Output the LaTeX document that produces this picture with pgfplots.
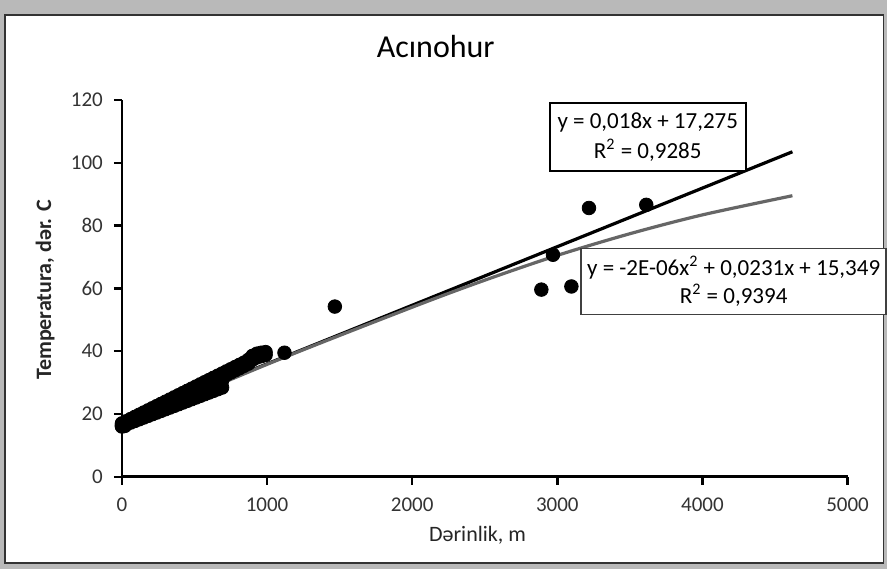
\documentclass[border=0pt]{standalone}
\usepackage{fontspec}
\setmainfont{Carlito}
\usepackage{pgfplots}
\pgfplotsset{compat=1.18}
\usepackage{pgfplotstable}

\pgfplotstableread{
x y
0 16.0
10 16.3
20 16.2
0 16.2
0 17.0
0 16.6
30 16.73
30 17.69
30 17.21
60 17.26
60 18.38
60 17.82
90 17.79
90 19.07
90 18.43
120 18.32
120 19.76
120 19.04
150 18.86
150 20.45
150 19.66
180 19.39
180 21.14
180 20.27
210 19.92
210 21.83
210 20.88
240 20.45
240 22.52
240 21.49
270 20.98
270 23.21
270 22.10
300 21.51
300 23.90
300 22.71
330 22.04
330 24.59
330 23.32
360 22.57
360 25.28
360 23.93
390 23.10
390 25.97
390 24.54
420 23.63
420 26.66
420 25.15
450 24.17
450 27.35
450 25.76
480 24.70
480 28.04
480 26.37
510 25.23
510 28.73
510 26.98
540 25.76
540 29.42
540 27.59
570 26.29
570 30.11
570 28.20
600 26.82
600 30.80
600 28.81
630 27.35
630 31.49
630 29.42
660 27.88
660 32.18
660 30.03
690 28.41
690 32.87
690 30.64
720 32.5
720 33.56
750 33.2
750 34.25
780 33.9
780 34.94
810 34.6
810 35.63
840 35.3
840 36.32
870 36.0
870 37.2
900 37.3
900 38.5
930 38.0
930 39.2
960 38.4
960 39.5
990 38.8
990 39.7
1120 39.5
1467 54.2
2890 59.6
2970 70.7
3097 60.6
3218 85.6
3613 86.6
}\datatable

\pgfplotstableread{
x y
0 17.3
4620 103.5
}\lintable

\pgfplotstableread{
x y
0 16.2
1000 35.8
2000 54.0
2500 62.6
3000 70.5
3500 77.4
4000 83.4
4620 89.5
}\polytable

\begin{document}
\begin{tikzpicture}
\fill[gray!55] (-61pt,-46pt) rectangle (382.5pt,238.5pt);
\filldraw[fill=white, draw=black!80, line width=0.8pt] (-58.5pt,-43pt) rectangle (381pt,231pt);
\begin{axis}[
  at={(0,0)}, anchor=south west,
  scale only axis,
  width=363pt, height=188.5pt,
  xmin=0, xmax=5000, ymin=0, ymax=120,
  xtick={0,1000,2000,3000,4000,5000},
  ytick={0,20,40,60,80,100,120},
  axis x line*=bottom, axis y line*=left,
  axis line style={black, line width=1.3pt},
  tick align=outside,
  major tick length=4pt,
  tick style={black, line width=1.2pt},
  clip=false,
  /pgf/number format/assume math mode=true,
  scaled ticks=false,
  xticklabel style={font=\fontsize{10.5}{12}\selectfont, text=black!80, yshift=-3pt},
  yticklabel style={font=\fontsize{10.5}{12}\selectfont, text=black!80, xshift=-2pt},
  x tick label style={/pgf/number format/1000 sep={}},
  xlabel={Dərinlik, m},
  ylabel={Temperatura, dər. C},
  xlabel style={at={(axis description cs:0.49,-0.156)}, anchor=center, font=\fontsize{11}{13}\selectfont, text=black!85},
  ylabel style={at={(axis description cs:-0.106,0.496)}, anchor=center, font=\bfseries\fontsize{11}{13}\selectfont, text=black!85},
  title={Acınohur},
  title style={at={(axis description cs:0.4325,1.109)}, anchor=center, yshift=0pt, font=\fontsize{16}{18}\selectfont},
]
\addplot[only marks, mark=*, mark size=3.4pt, black] table[x=x, y=y] {\datatable};
\addplot[black, line width=1.6pt] table[x=x, y=y] {\lintable};
\addplot[black!60, line width=1.6pt, smooth] table[x=x, y=y] {\polytable};
\node[draw=black, line width=1pt, fill=white, align=center, inner xsep=4pt, inner ysep=5pt, font=\fontsize{11.5}{15}\selectfont] at (axis cs:3623,108.2) {y = 0,018x + 17,275\\R\textsuperscript{2} = 0,9285};
\node[draw=black!75, line width=0.9pt, fill=white, align=center, inner xsep=3pt, inner ysep=4pt, font=\fontsize{11.5}{14}\selectfont] at (axis cs:4215,62.2) {y = -2E-06x\textsuperscript{2} + 0,0231x + 15,349\\R\textsuperscript{2} = 0,9394};
\end{axis}
\end{tikzpicture}
\end{document}
